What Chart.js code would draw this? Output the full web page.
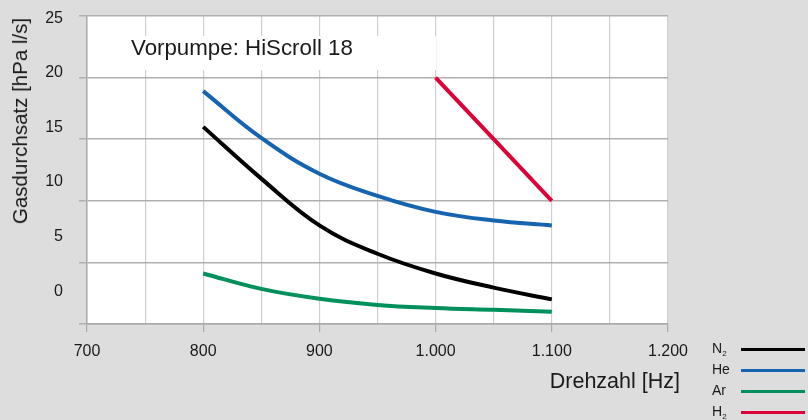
<!DOCTYPE html>
<html>
<head>
<meta charset="utf-8">
<script src="https://cdn.jsdelivr.net/npm/chart.js@4/dist/chart.umd.min.js"></script>
<style>
  html, body { margin: 0; padding: 0; background: #dddddd; }
  #wrap { position: relative; width: 808px; height: 420px; font-family: 'Liberation Sans', Arial, sans-serif; color: #1a1a1a; }
  #c { position: absolute; left: 0; top: 0; }
  .note { position: absolute; left: 96px; top: 36px; width: 340px; height: 34px; background: #fff; font-size: 22.3px; line-height: 24px; }
  .note span { position: absolute; left: 35px; top: 0; }
  .ytitle { position: absolute; left: 20px; top: 121px; transform: translate(-50%, -50%) rotate(-90deg); font-size: 20.5px; white-space: nowrap; }
  .xtitle { position: absolute; right: 128px; top: 369px; font-size: 21.5px; white-space: nowrap; }
  .legend { position: absolute; left: 712px; top: 338px; font-size: 14px; }
  .legend div { position: relative; height: 21px; line-height: 21px; }
  .legend i { position: absolute; left: 29px; top: 10px; width: 64px; height: 3px; }
  .legend sub { font-size: 8px; vertical-align: -3px; }
</style>
</head>
<body>
<div id="wrap">
  <canvas id="c" width="808" height="420"></canvas>
  <div class="note"><span>Vorpumpe: HiScroll 18</span></div>
  <div class="ytitle">Gasdurchsatz [hPa l/s]</div>
  <div class="xtitle">Drehzahl [Hz]</div>
  <div class="legend" id="legend"></div>
</div>
<script>
// ─── Data ─────────────────────────────────────────────────────────
const speeds   = [800, 850, 900, 950, 1000, 1050, 1100];
const n2Vals   = [16.0, 11.8, 8.0, 5.7, 4.1, 2.95, 2.0];
const heVals   = [18.9, 15.1, 12.2, 10.4, 9.1, 8.4, 8.0];
const arVals   = [4.1, 2.85, 2.05, 1.55, 1.3, 1.15, 1.0];
const h2Speeds = [1000, 1100];
const h2Vals   = [20, 10];

const gases    = ['N<sub>2</sub>', 'He', 'Ar', 'H<sub>2</sub>'];
const colors   = ['#000000', '#1664b0', '#00905c', '#dc0036'];
const xTicks   = [700, 800, 900, 1000, 1100, 1200];
const yTicks   = [0, 5, 10, 15, 20, 25];

const FONT = "'Liberation Sans', Arial, sans-serif";
const pts = (xs, ys) => xs.map((x, i) => ({ x, y: ys[i] }));
const fmtHz = v => v >= 1000 ? Math.floor(v / 1000) + '.' + String(v % 1000).padStart(3, '0') : String(v);

// ─── Legend ───────────────────────────────────────────────────────
document.getElementById('legend').innerHTML = gases.map((g, i) =>
  `<div>${g}<i style="background:${colors[i]}"></i></div>`).join('');

// ─── Background plugin ────────────────────────────────────────────
const bg = {
  id: 'bg',
  beforeDraw(chart) {
    const { ctx, chartArea: a } = chart;
    ctx.save();
    ctx.fillStyle = '#dddddd';
    ctx.fillRect(0, 0, chart.width, chart.height);
    ctx.fillStyle = '#ffffff';
    ctx.fillRect(a.left, a.top, a.right - a.left, a.bottom - a.top);
    ctx.restore();
  }
};

const line = (data, color) => ({
  data, borderColor: color, backgroundColor: color,
  borderWidth: 4, pointRadius: 0, fill: false,
  tension: 0.4, borderCapStyle: 'butt',
});

new Chart(document.getElementById('c'), {
  type: 'line',
  data: {
    datasets: [
      line(pts(speeds, n2Vals), colors[0]),
      line(pts(speeds, heVals), colors[1]),
      line(pts(speeds, arVals), colors[2]),
      line(pts(h2Speeds, h2Vals), colors[3]),
    ],
  },
  options: {
    responsive: false,
    animation: false,
    layout: { padding: { top: 16, right: 140, left: 0, bottom: 0 } },
    plugins: { legend: { display: false }, tooltip: { enabled: false } },
    scales: {
      x: {
        type: 'linear', min: 700, max: 1200,
        afterFit: s => { s.height = 96; },
        afterBuildTicks: s => { s.ticks = []; for (let v = 700; v <= 1200; v += 50) s.ticks.push({ value: v }); },
        ticks: {
          autoSkip: false, maxRotation: 0, padding: 10, color: '#1a1a1a',
          font: { family: FONT, size: 16 },
          callback: v => xTicks.includes(v) ? fmtHz(v) : '',
        },
        grid: {
          color: '#cfcfcf', lineWidth: 1.2, tickLength: 8,
          tickColor: c => (c.tick && c.tick.value % 100 === 0) ? '#aaaaaa' : 'rgba(0,0,0,0)',
        },
        border: { color: '#aaaaaa', width: 1.5 },
      },
      y: {
        min: 0, max: 25, weight: 0,
        afterFit: s => { s.width = 22; },
        ticks: { display: false, stepSize: 5 },
        grid: { color: '#b0b0b0', lineWidth: 1.5, tickLength: 8 },
        border: { color: '#aaaaaa', width: 1.5 },
      },
      // label-only axis: the printed tick labels sit on their own spacing
      yl: {
        position: 'left', weight: 1, min: -3, max: 25.2,
        afterFit: s => { s.width = 65; },
        afterBuildTicks: s => { s.ticks = yTicks.map(v => ({ value: v })); },
        ticks: {
          padding: 2, color: '#1a1a1a',
          font: { family: FONT, size: 16 },
        },
        grid: { display: false, drawTicks: false },
        border: { display: false },
      },
    },
  },
  plugins: [bg],
});
</script>
</body>
</html>
